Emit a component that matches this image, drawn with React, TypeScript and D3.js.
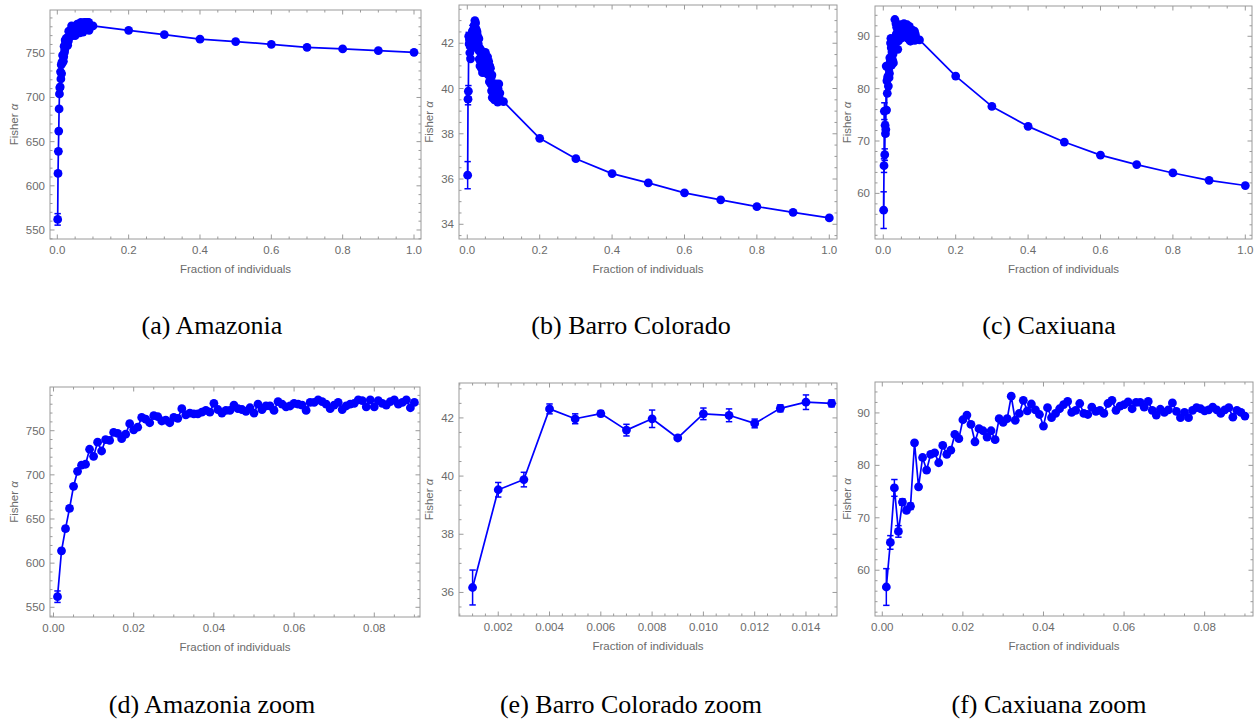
import React from "react";
import * as d3 from "d3";

// fraction grid: fine part (0.001 .. 0.090) and coarse part (0.1 .. 1.0)
const fineFractions = d3.range(1, 91).map(i => i / 1000);
const coarseFractions = [0.1, 0.2, 0.3, 0.4, 0.5, 0.6, 0.7, 0.8, 0.9, 1.0];

// Fisher alpha, Amazonia
const amazoniaFine = [
  562, 614, 639, 662, 687, 704, 711, 712, 729, 721,
  737, 727, 740, 739, 748, 747, 741, 746, 758, 751,
  754, 765, 763, 759, 767, 766, 761, 762, 759, 765,
  764, 775, 768, 770, 769, 769, 771, 773, 771, 781,
  774, 770, 773, 773, 779, 775, 774, 772, 776, 770,
  780, 774, 778, 778, 773, 783, 780, 777, 778, 781,
  780, 779, 773, 782, 782, 785, 783, 780, 775, 779,
  782, 774, 778, 780, 781, 785, 784, 777, 785, 777,
  784, 781, 779, 783, 785, 780, 782, 785, 776, 782
];
const amazoniaCoarse = [781, 776, 771.2, 766, 763.3, 760.2, 756.8, 754.9, 753, 751.1];
const amazoniaErr = [6.5, 2.5, 2.5, 2.5, 2, 2, 2, 2];

// Fisher alpha, Barro Colorado
const barroFine = [
  36.17, 39.53, 39.88, 42.31, 41.97, 42.15, 41.58, 41.97, 41.31, 42.14,
  42.09, 41.81, 42.33, 42.54, 42.5, 42.2, 42.6, 42.3, 42.8, 42.5,
  43.0, 42.7, 42.9, 42.4, 42.6, 42.1, 42.5, 41.9, 42.3, 42.0,
  41.7, 42.2, 41.3, 41.8, 41.0, 41.6, 41.2, 41.7, 40.9, 41.4,
  41.0, 40.7, 41.3, 41.6, 41.1, 40.8, 41.5, 41.2, 40.7, 41.6,
  41.0, 41.3, 40.9, 41.2, 40.8, 41.4, 41.0, 40.6, 41.2, 40.8,
  40.3, 41.0, 40.6, 40.9, 40.2, 40.5, 39.9, 40.6, 39.6, 40.1,
  39.8, 39.6, 40.2, 39.9, 39.5, 40.1, 39.7, 39.9, 40.2, 39.5,
  39.8, 40.1, 39.6, 39.4, 40.0, 39.7, 40.2, 39.6, 39.5, 39.8
];
const barroCoarse = [39.42, 37.8, 36.9, 36.24, 35.83, 35.39, 35.08, 34.78, 34.53, 34.28];
const barroErr = [0.6, 0.25, 0.25, 0.17, 0.17, 0.1, 0.2, 0.3, 0.06, 0.2, 0.22, 0.15, 0.12, 0.25, 0.12];

// Fisher alpha, Caxiuana
const caxiuanaFine = [
  56.8, 65.3, 75.7, 67.4, 73.0, 71.4, 72.2, 84.3, 75.9, 81.5,
  79.1, 82.1, 82.4, 80.5, 83.8, 82.1, 82.9, 85.9, 85.1, 88.7,
  89.6, 87.8, 84.5, 87.0, 86.6, 85.4, 86.6, 84.9, 88.9, 88.2,
  88.9, 93.2, 88.6, 89.9, 92.4, 90.4, 91.7, 90.6, 89.7, 87.5,
  91.0, 89.1, 89.9, 90.8, 91.6, 92.2, 90.1, 90.5, 91.8, 89.9,
  89.7, 91.1, 90.3, 90.5, 89.9, 91.8, 92.4, 90.5, 91.3, 91.6,
  92.1, 90.8, 92.0, 92.0, 91.1, 92.2, 90.5, 89.6, 90.7, 90.1,
  90.6, 91.9, 90.3, 89.1, 90.1, 89.1, 90.5, 91.0, 90.8, 90.4,
  90.6, 91.1, 90.6, 89.9, 90.6, 91.0, 89.2, 90.5, 90.1, 89.4
];
const caxiuanaCoarse = [89.3, 82.4, 76.6, 72.8, 69.8, 67.3, 65.5, 63.9, 62.5, 61.5];
const caxiuanaErr = [3.5, 1.3, 1.6, 1.1, 0.6, 0.4, 0.6, 0.4, 0.4, 0.4];

const captions = [
  "(a) Amazonia", "(b) Barro Colorado", "(c) Caxiuana",
  "(d) Amazonia zoom", "(e) Barro Colorado zoom", "(f) Caxiuana zoom"
];

const BLUE = "#0000ff";
const FRAME = "#9a9a9a";
const LABEL = "#6b6b6b";
const SANS = "'Liberation Sans', Arial, sans-serif";
const SERIF = "'Liberation Serif', 'Times New Roman', serif";

type Spec = {
  left: number; right: number; top: number; bottom: number;
  xDomain: [number, number]; yDomain: [number, number];
  xs: number[]; ys: number[]; errs: number[];
  xMajor: number; xMinor: number; yMajor: number; yMinor: number;
  xFmt: string; yLabelOff: number;
};

// multiples of step inside the domain
const stepsIn = (dom: [number, number], step: number) => {
  const k0 = Math.ceil(dom[0] / step - 1e-9);
  const k1 = Math.floor(dom[1] / step + 1e-9);
  return d3.range(k0, k1 + 1).map(k => +(k * step).toFixed(6));
};
const isMult = (v: number, step: number) => Math.abs(v / step - Math.round(v / step)) < 1e-6;

function Panel({ s }: { s: Spec }) {
  const x = d3.scaleLinear().domain(s.xDomain).range([s.left, s.right]);
  const y = d3.scaleLinear().domain(s.yDomain).range([s.bottom, s.top]);
  const pts = s.xs.map((v, i) => ({ x: v, y: s.ys[i], e: s.errs[i] || 0 }));
  const line = d3.line<{ x: number; y: number }>().x(d => x(d.x)).y(d => y(d.y));

  const xMajors = stepsIn(s.xDomain, s.xMajor);
  const xMinors = stepsIn(s.xDomain, s.xMinor).filter(v => !isMult(v, s.xMajor));
  const yMajors = stepsIn(s.yDomain, s.yMajor);
  const yMinors = stepsIn(s.yDomain, s.yMinor).filter(v => !isMult(v, s.yMajor));
  const fx = d3.format(s.xFmt);
  const MAJ = 4.5, MIN = 2.5;
  const cy = (s.top + s.bottom) / 2;

  return (
    <g>
      {/* ticks on all four sides, pointing inward */}
      <g stroke={FRAME} strokeWidth={1}>
        {xMajors.map(v => (
          <g key={"xM" + v}>
            <line x1={x(v)} x2={x(v)} y1={s.bottom} y2={s.bottom - MAJ} />
            <line x1={x(v)} x2={x(v)} y1={s.top} y2={s.top + MAJ} />
          </g>
        ))}
        {xMinors.map(v => (
          <g key={"xm" + v}>
            <line x1={x(v)} x2={x(v)} y1={s.bottom} y2={s.bottom - MIN} />
            <line x1={x(v)} x2={x(v)} y1={s.top} y2={s.top + MIN} />
          </g>
        ))}
        {yMajors.map(v => (
          <g key={"yM" + v}>
            <line x1={s.left} x2={s.left + MAJ} y1={y(v)} y2={y(v)} />
            <line x1={s.right} x2={s.right - MAJ} y1={y(v)} y2={y(v)} />
          </g>
        ))}
        {yMinors.map(v => (
          <g key={"ym" + v}>
            <line x1={s.left} x2={s.left + MIN} y1={y(v)} y2={y(v)} />
            <line x1={s.right} x2={s.right - MIN} y1={y(v)} y2={y(v)} />
          </g>
        ))}
        <rect x={s.left} y={s.top} width={s.right - s.left} height={s.bottom - s.top} fill="none" />
      </g>

      <g fontFamily={SANS} fontSize={11.5} fill={LABEL}>
        {xMajors.map(v => (
          <text key={"xl" + v} x={x(v)} y={s.bottom + 15} textAnchor="middle">{fx(v)}</text>
        ))}
        {yMajors.map(v => (
          <text key={"yl" + v} x={s.left - 5} y={y(v) + 4} textAnchor="end">{d3.format("d")(v)}</text>
        ))}
        <text x={(s.left + s.right) / 2} y={s.bottom + 34} textAnchor="middle">Fraction of individuals</text>
        <text transform={`translate(${s.left - s.yLabelOff},${cy}) rotate(-90)`} textAnchor="middle">
          Fisher <tspan fontStyle="italic">α</tspan>
        </text>
      </g>

      <path d={line(pts) || ""} fill="none" stroke={BLUE} strokeWidth={1.7} strokeLinejoin="round" />
      <g stroke={BLUE} strokeWidth={1.5}>
        {pts.filter(p => p.e > 0).map((p, i) => (
          <g key={"e" + i}>
            <line x1={x(p.x)} x2={x(p.x)} y1={y(p.y - p.e)} y2={y(p.y + p.e)} />
            <line x1={x(p.x) - 3.2} x2={x(p.x) + 3.2} y1={y(p.y - p.e)} y2={y(p.y - p.e)} />
            <line x1={x(p.x) - 3.2} x2={x(p.x) + 3.2} y1={y(p.y + p.e)} y2={y(p.y + p.e)} />
          </g>
        ))}
      </g>
      <g fill={BLUE}>
        {pts.map((p, i) => (
          <circle key={"p" + i} cx={x(p.x)} cy={y(p.y)} r={4.4} />
        ))}
      </g>
    </g>
  );
}

const allFractions = [...fineFractions, ...coarseFractions];

const specs: Spec[] = [
  {
    left: 50, right: 421, top: 10, bottom: 239,
    xDomain: [-0.0205, 1.0196], yDomain: [539.8, 799],
    xs: allFractions, ys: [...amazoniaFine, ...amazoniaCoarse], errs: amazoniaErr,
    xMajor: 0.2, xMinor: 0.05, yMajor: 50, yMinor: 10, xFmt: ".1f", yLabelOff: 32
  },
  {
    left: 459, right: 837, top: 5, bottom: 239,
    xDomain: [-0.0229, 1.0213], yDomain: [33.35, 43.69],
    xs: allFractions, ys: [...barroFine, ...barroCoarse], errs: barroErr,
    xMajor: 0.2, xMinor: 0.05, yMajor: 2, yMinor: 0.5, xFmt: ".1f", yLabelOff: 26
  },
  {
    left: 875, right: 1252, top: 6, bottom: 239,
    xDomain: [-0.0229, 1.0185], yDomain: [51.29, 95.78],
    xs: allFractions, ys: [...caxiuanaFine, ...caxiuanaCoarse], errs: caxiuanaErr,
    xMajor: 0.2, xMinor: 0.05, yMajor: 10, yMinor: 2, xFmt: ".1f", yLabelOff: 24
  },
  {
    left: 50, right: 420, top: 387, bottom: 617,
    xDomain: [-0.00087, 0.0914], yDomain: [539, 799.5],
    xs: fineFractions, ys: amazoniaFine, errs: amazoniaErr,
    xMajor: 0.02, xMinor: 0.005, yMajor: 50, yMinor: 10, xFmt: ".2f", yLabelOff: 32
  },
  {
    left: 459, right: 837, top: 383, bottom: 616,
    xDomain: [0.00047, 0.01521], yDomain: [35.19, 43.2],
    xs: fineFractions.slice(0, 15), ys: barroFine.slice(0, 15), errs: barroErr,
    xMajor: 0.002, xMinor: 0.0005, yMajor: 2, yMinor: 0.5, xFmt: ".3f", yLabelOff: 26
  },
  {
    left: 875, right: 1253, top: 382, bottom: 616,
    xDomain: [-0.00181, 0.092], yDomain: [51.27, 95.9],
    xs: fineFractions, ys: caxiuanaFine, errs: caxiuanaErr,
    xMajor: 0.02, xMinor: 0.005, yMajor: 10, yMinor: 2, xFmt: ".2f", yLabelOff: 24
  }
];

const captionX = [212, 631, 1049];

export default function App() {
  return (
    <svg width={1258} height={719} style={{ position: "absolute", left: 0, top: 0, background: "#fff" }}>
      {specs.map((s, i) => <Panel key={i} s={s} />)}
      <g fontFamily={SERIF} fontSize={26} fill="#000" textAnchor="middle">
        {captions.map((c, i) => (
          <text key={c} x={captionX[i % 3]} y={i < 3 ? 334 : 713}>{c}</text>
        ))}
      </g>
    </svg>
  );
}
